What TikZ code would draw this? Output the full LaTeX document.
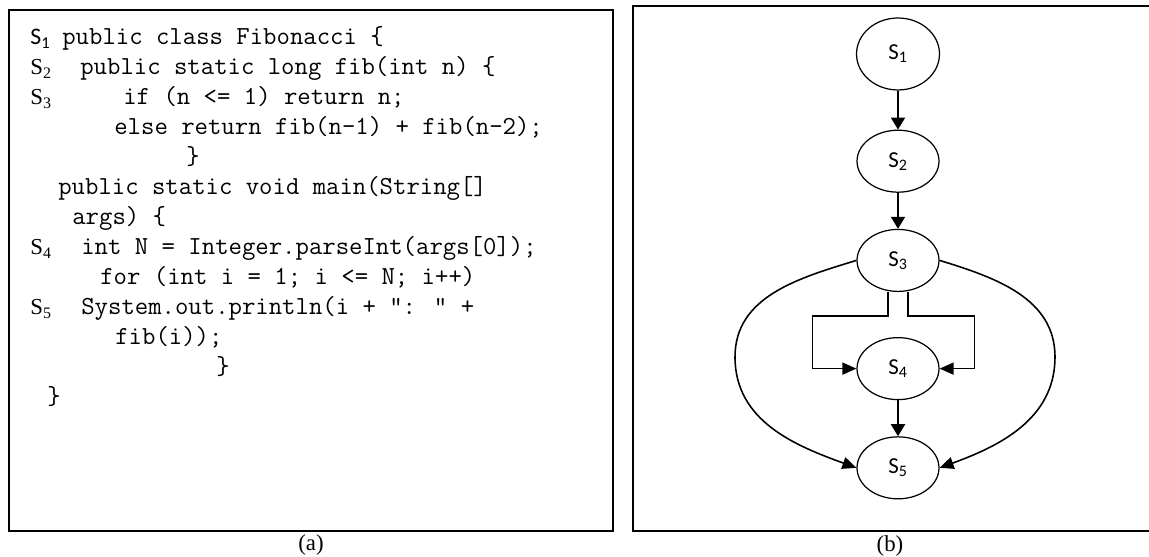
\documentclass[tikz,border=0pt]{standalone}
\usepackage{fontspec}
\setmainfont{Liberation Serif}
\newfontfamily\calibrifont{Carlito}
\usepackage{tikz}
\usetikzlibrary{arrows.meta, positioning, shapes.geometric}
\tikzset{
  panel/.style={draw=black, line width=1.1pt},
  codeln/.style={anchor=base west, inner sep=0pt,
                 font=\fontsize{14.8}{17}\ttfamily},
  stag/.style={anchor=base west, inner sep=0pt,
               font=\fontsize{13}{15}\selectfont},
  caption/.style={inner sep=0pt, font=\fontsize{13}{15}\selectfont},
  stmt/.style={ellipse, draw, line width=0.7pt, inner sep=0pt,
               minimum width=1.64cm, minimum height=1.24cm,
               font=\calibrifont\fontsize{13}{15}\selectfont},
}

\begin{document}
\begin{tikzpicture}[
        x=0.02cm, y=0.02cm,
        arr/.style={-{Triangle[length=0.24cm, width=0.28cm]}, line width=1.1pt},
        brarr/.style={-{Triangle[length=0.28cm, width=0.24cm]}, line width=0.8pt},
        curarr/.style={-{Triangle[length=0.28cm, width=0.24cm]}, line width=0.9pt},
      ]
        \useasboundingbox (0,0) rectangle (1149,557);
        % (a) source code
        \draw[panel] (9,26) rectangle (613,547);
        \node[stag, font=\calibrifont\fontsize{13.5}{15}\selectfont] (t1) at (30,512) {S\textsubscript{1}};
        \node[codeln] (l1) at (62,512) {public class Fibonacci \{};
        \node[stag] (t2) at (30,482) {S\textsubscript{2}};
        \node[codeln] (l2) at (80,482) {public static long fib(int n) \{};
        \node[stag] (t3) at (30,452) {S\textsubscript{3}};
        \node[codeln] (l3) at (123,452) {if (n <= 1) return n;};
        \node[codeln] (l4) at (114,422) {else return fib(n-1) + fib(n-2);};
        \node[codeln] (l5) at (186,392) {\}};
        \node[codeln] (l6) at (58,362) {public static void main(String[]};
        \node[codeln] (l7) at (72,332) {args) \{};
        \node[stag] (t4) at (30,302) {S\textsubscript{4}};
        \node[codeln] (l8) at (81,302) {int N = Integer.parseInt(args[0]);};
        \node[codeln] (l9) at (100,272) {for (int i = 1; i <= N; i++)};
        \node[stag] (t5) at (30,242) {S\textsubscript{5}};
        \node[codeln] (l10) at (81,242) {System.out.println(i + ": " +};
        \node[codeln] (l11) at (115,212) {fib(i));};
        \node[codeln] (l12) at (216,182) {\}};
        \node[codeln] (l13) at (47,152) {\}};
        \node[caption] (capa) at (311,12) {(a)};

        % (b) flow graph
        \draw[panel] (1149,551) -- (633,551) -- (633,26) -- (1149,26);
        \node[stmt, minimum width=1.66cm, minimum height=1.44cm] (s1) at (898,503) {S\textsubscript{1}};
        \node[stmt, below=0.78cm of s1] (s2) {S\textsubscript{2}};
        \node[stmt, below=0.72cm of s2] (s3) {S\textsubscript{3}};
        \node[stmt, below=0.9cm of s3] (s4) {S\textsubscript{4}};
        \node[stmt, below=0.72cm of s4] (s5) {S\textsubscript{5}};
        \coordinate (lbend) at (735,200);
        \coordinate (rbend) at (1055,200);
        \draw[arr] (s1) -- (s2);
        \draw[arr] (s2) -- (s3);
        \draw[arr] (s4) -- (s5);
        % branches into the loop body
        \draw[brarr] ([xshift=-0.2cm]s3.south) -- ++(0,-24) -| ([xshift=-0.88cm]s4.west) -- (s4.west);
        \draw[brarr] ([xshift=0.2cm]s3.south) -- ++(0,-24) -| ([xshift=0.7cm]s4.east) -- (s4.east);
        % outer paths
        \draw[curarr] (s3.west) to[out=197, in=90] (lbend) to[out=270, in=160] (s5.west);
        \draw[curarr] (s3.east) to[out=-17, in=90] (rbend) to[out=270, in=20] (s5.east);
        \node[caption] (capb) at (890,11) {(b)};
      \end{tikzpicture}
\end{document}
